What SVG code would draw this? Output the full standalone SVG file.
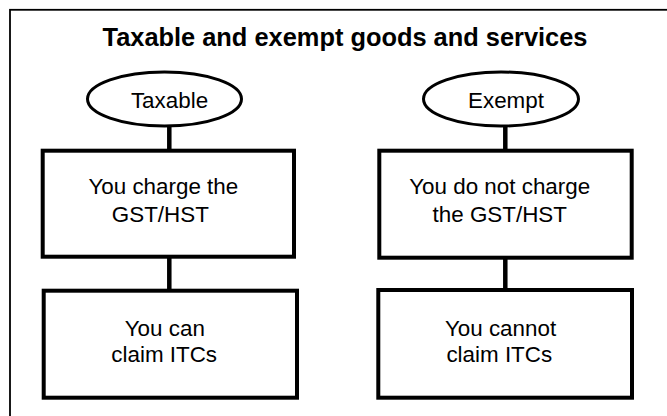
<svg xmlns="http://www.w3.org/2000/svg" width="667" height="416" viewBox="0 0 667 416">
<style>
  .t{font-family:"Liberation Sans",Arial,sans-serif;font-size:22.4px;fill:#000;text-anchor:middle}
  .title{font-family:"Liberation Sans",Arial,sans-serif;font-size:25.4px;font-weight:bold;fill:#000;text-anchor:middle}
  .box{fill:#fff;stroke:#000;stroke-width:4}
  .ell{fill:#fff;stroke:#000;stroke-width:3}
  .conn{stroke:#000;stroke-width:4.5;fill:none}
</style>
<rect x="0" y="0" width="667" height="416" fill="#fff"/>
<rect x="10" y="9.8" width="700" height="500" fill="none" stroke="#000" stroke-width="1.8"/>
<text class="title" x="345" y="46">Taxable and exempt goods and services</text>
<g id="connectors">
  <line class="conn" x1="169.3" y1="126" x2="169.3" y2="150"/>
  <line class="conn" x1="169.3" y1="257" x2="169.3" y2="290"/>
  <line class="conn" x1="505.3" y1="126" x2="505.3" y2="150"/>
  <line class="conn" x1="505.3" y1="258" x2="505.3" y2="290"/>
</g>
<g id="taxable">
  <ellipse class="ell" cx="164.5" cy="99" rx="77" ry="27"/>
  <text class="t" x="169.5" y="108">Taxable</text>
</g>
<g id="exempt">
  <ellipse class="ell" cx="501" cy="99" rx="77.5" ry="27"/>
  <text class="t" x="506" y="108">Exempt</text>
</g>
<g id="charge">
  <rect class="box" x="42.7" y="150.7" width="251.3" height="106"/>
  <text class="t" x="163.3" y="194.3">You charge the</text>
  <text class="t" x="160.3" y="221.7">GST/HST</text>
</g>
<g id="can-claim">
  <rect class="box" x="43.7" y="290.7" width="253.3" height="107"/>
  <text class="t" x="164.8" y="335.7">You can</text>
  <text class="t" x="164.2" y="362">claim ITCs</text>
</g>
<g id="no-charge">
  <rect class="box" x="379.3" y="150.7" width="252.4" height="107"/>
  <text class="t" x="499.7" y="194.3">You do not charge</text>
  <text class="t" x="499.8" y="221.7">the GST/HST</text>
</g>
<g id="cannot-claim">
  <rect class="box" x="378.3" y="290" width="253.7" height="107.7"/>
  <text class="t" x="500.5" y="335.7">You cannot</text>
  <text class="t" x="499.3" y="362">claim ITCs</text>
</g>
</svg>
